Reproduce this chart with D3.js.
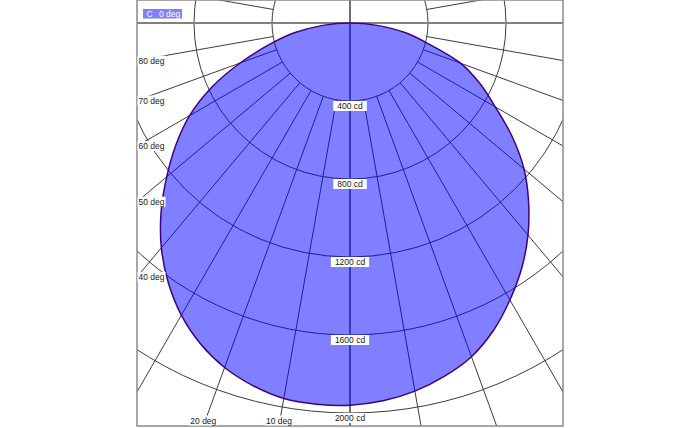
<!DOCTYPE html>
<html>
<head>
<meta charset="utf-8">
<script src="https://cdn.jsdelivr.net/npm/d3@7"></script>
<style>
    body { margin: 0; background: #fff; }
    svg { display: block; font-family: "Liberation Sans", Arial, sans-serif; }
</style>
</head>
<body>
<svg id="chart" width="700" height="428"></svg>
<script>

// gamma angle from nadir (deg) and luminous intensity (cd), both halves of the plane
const gammaAngles = [0, 5, 10, 15, 20, 25, 30, 35, 40, 45, 50, 55, 60, 65, 70, 75, 80, 85, 90];
const leftCd  = [1960, 1962, 1955, 1925, 1880, 1815, 1730, 1625, 1505, 1370, 1227, 1090, 950, 785, 600, 430, 290, 140, 0];
const rightCd = [1960, 1945, 1917, 1875, 1821, 1740, 1640, 1535, 1420, 1295, 1165, 1015, 860, 735, 605, 420, 290, 140, 0];

const ringValues = [400, 800, 1200, 1600, 2000];
const spokeAngles = [10, 20, 30, 40, 50, 60, 70, 80, 100, 260, 280, 290, 300, 310, 320, 330, 340, 350];
const angleLabels = [80, 70, 60, 50, 40, 20, 10];
const legendName = "C";
const legendPlane = "0 deg";

// ========== MAIN CODE ==========

const svg = d3.select("#chart");
const frame = { x0: 137, x1: 563, y0: 0, y1: 426 };
const cx = 350, cy = 23;

const rScale = d3.scaleLinear()
    .domain([0, 2000])
    .range([0, 390]);

const rad = d => d * Math.PI / 180;

// point for angle measured from straight down, positive to the left
function pt(theta, cd) {
    const r = rScale(cd);
    return [cx - r * Math.sin(rad(theta)), cy + r * Math.cos(rad(theta))];
}

svg.append("defs").append("clipPath")
    .attr("id", "frameClip")
    .append("rect")
    .attr("x", frame.x0)
    .attr("y", frame.y0)
    .attr("width", frame.x1 - frame.x0)
    .attr("height", frame.y1 - frame.y0);

const plot = svg.append("g").attr("clip-path", "url(#frameClip)");

// grid rings
plot.selectAll("circle.ring")
    .data(ringValues)
    .enter().append("circle")
    .attr("class", "ring")
    .attr("cx", cx)
    .attr("cy", cy)
    .attr("r", d => rScale(d))
    .attr("fill", "none")
    .attr("stroke", "#3c3c3c")
    .attr("stroke-width", 1);

// spokes start at the first ring
plot.selectAll("line.spoke")
    .data(spokeAngles)
    .enter().append("line")
    .attr("class", "spoke")
    .attr("x1", d => pt(d, ringValues[0])[0])
    .attr("y1", d => pt(d, ringValues[0])[1])
    .attr("x2", d => pt(d, 3200)[0])
    .attr("y2", d => pt(d, 3200)[1])
    .attr("stroke", "#3c3c3c")
    .attr("stroke-width", 1);

// main axes
plot.append("line")
    .attr("x1", cx).attr("x2", cx)
    .attr("y1", frame.y0).attr("y2", frame.y1)
    .attr("stroke", "#707070")
    .attr("stroke-width", 2);

plot.append("line")
    .attr("x1", frame.x0).attr("x2", frame.x1)
    .attr("y1", cy).attr("y2", cy)
    .attr("stroke", "#808080")
    .attr("stroke-width", 2);

// distribution curve
let curvePts = [];
for (let i = gammaAngles.length - 1; i >= 0; i--) {
    curvePts.push({ a: Math.PI + rad(gammaAngles[i]), cd: leftCd[i] });
}
for (let i = 1; i < gammaAngles.length - 1; i++) {
    curvePts.push({ a: Math.PI - rad(gammaAngles[i]), cd: rightCd[i] });
}

const radial = d3.lineRadial()
    .angle(d => d.a)
    .radius(d => rScale(d.cd))
    .curve(d3.curveCatmullRomClosed.alpha(0.5));

const curveG = plot.append("g").attr("transform", "translate(" + cx + "," + cy + ")");

curveG.append("path")
    .attr("d", radial(curvePts))
    .attr("fill", "#0000ff")
    .attr("fill-opacity", 0.5)
    .attr("stroke", "none");

curveG.append("path")
    .attr("d", radial(curvePts))
    .attr("fill", "none")
    .attr("stroke", "#40007f")
    .attr("stroke-width", 1.5);

// frame
svg.append("rect")
    .attr("x", frame.x0)
    .attr("y", frame.y0)
    .attr("width", frame.x1 - frame.x0)
    .attr("height", frame.y1 - frame.y0)
    .attr("fill", "none")
    .attr("stroke", "#8a8a8a")
    .attr("stroke-width", 1.5);

// label with white box, mode "ring": box top at y, "left": box centred on y, else box bottom at y
function boxLabel(text, x, y, mode) {
    const g = svg.append("g");
    const rect = g.append("rect").attr("fill", "#fff");
    const t = g.append("text")
        .attr("font-size", "8.5px")
        .attr("fill", "#1a1a1a")
        .text(text);
    const w = t.node().getComputedTextLength();
    const h = 10;
    let bx, by;
    if (mode == "ring") {
        bx = x - w / 2 - 4; by = y;
        rect.attr("width", w + 8);
    } else if (mode == "left") {
        bx = x; by = y - h / 2;
        rect.attr("width", w + 2);
    } else {
        bx = x - w / 2 - 1; by = y - h;
        rect.attr("width", w + 2);
    }
    rect.attr("x", bx).attr("y", by).attr("height", h);
    t.attr("x", mode == "ring" ? bx + 4 : bx + 1)
        .attr("y", by + 8);
}

ringValues.forEach(v => {
    boxLabel(v + " cd", cx, Math.min(cy + rScale(v), frame.y1 - 11), "ring");
});

angleLabels.forEach(a => {
    const s = Math.sin(rad(a)), c = Math.cos(rad(a));
    const tLeft = (cx - frame.x0) / s;
    const yLeft = cy + tLeft * c;
    if (yLeft <= frame.y1) {
        boxLabel(a + " deg", frame.x0 + 0.5, yLeft, "left");
    } else {
        const tBot = (frame.y1 - cy) / c;
        boxLabel(a + " deg", cx - tBot * s, frame.y1 - 0.5, "bottom");
    }
});

// legend
svg.append("rect")
    .attr("x", 143)
    .attr("y", 9)
    .attr("width", 39)
    .attr("height", 9.5)
    .attr("fill", "#8080ff");

const leg = svg.append("text")
    .attr("y", 17)
    .attr("font-size", "8.5px")
    .attr("fill", "#fff");
leg.append("tspan").attr("x", 146.5).text(legendName);
leg.append("tspan").attr("x", 159).text(legendPlane);

</script>
</body>
</html>
